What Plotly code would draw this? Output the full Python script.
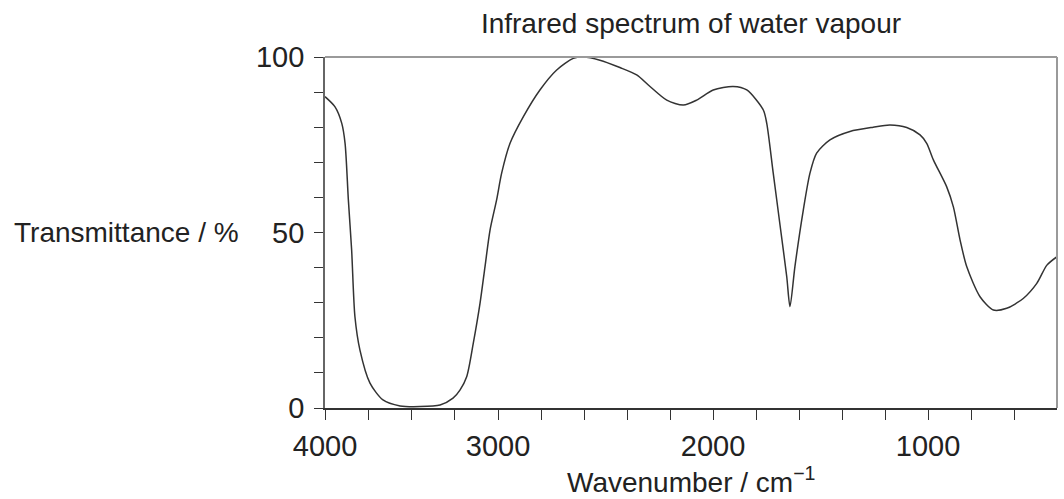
import plotly.graph_objects as go

# ---- data ----
wavenumber = [4000, 3942, 3903, 3884, 3865, 3846, 3827, 3798, 3740, 3665, 3566, 3451, 3335, 3260,
              3220, 3181, 3143, 3104, 3075, 3046, 3008, 2983, 2944, 2882, 2805, 2727, 2650, 2603,
              2526, 2433, 2355, 2293, 2215, 2138, 2076, 1999, 1906, 1843, 1766, 1750, 1720, 1688,
              1657, 1642, 1619, 1580, 1549, 1518, 1456, 1363, 1255, 1177, 1099, 1037, 1006, 975,
              913, 882, 851, 820, 758, 696, 634, 557, 494, 447, 400]
transmittance = [88.7, 85.8, 81.1, 75.4, 59.3, 45.0, 26.0, 16.5, 7.1, 2.3, 0.6, 0.4, 0.85, 2.8,
                 5.1, 8.9, 18.4, 29.8, 40.3, 50.7, 59.3, 66.9, 75.4, 83.0, 90.6, 96.3, 99.6, 100.0,
                 99.1, 97.0, 94.9, 91.6, 87.7, 86.3, 87.7, 90.6, 91.6, 90.6, 84.9, 81.1, 67.0, 52.0,
                 37.4, 28.9, 40.3, 56.4, 66.9, 72.6, 76.4, 78.8, 80.0, 80.6, 79.9, 77.8, 75.4, 70.7,
                 63.0, 57.3, 47.9, 40.3, 31.7, 27.9, 28.4, 31.2, 35.5, 40.7, 43.1]

x_major = [4000, 3000, 2000, 1000]
x_minor = [3750, 3500, 3250, 2800, 2600, 2400, 2200, 1800, 1600, 1400, 1200, 800, 600]
y_ticks = [0, 10, 20, 30, 40, 50, 60, 70, 80, 90, 100]
y_labels = ["0", "", "", "", "", "50", "", "", "", "", "100"]

# the wavenumber scale is compressed above 3000 cm-1
SCALE_HIGH = 173 / 215


def to_axis(w):
    return w if w <= 3000 else 3000 + (w - 3000) * SCALE_HIGH


xu = [to_axis(w) for w in wavenumber]
x_tickvals = [to_axis(w) for w in x_major + x_minor]
x_ticktext = [str(w) for w in x_major] + [" "] * len(x_minor)

FONT = "Liberation Sans, Arial, sans-serif"
TXT = "#222222"

fig = go.Figure()
fig.add_trace(go.Scatter(x=xu, y=transmittance, mode="lines",
                         line=dict(color="#333333", width=1.5, shape="spline", smoothing=0.75),
                         hoverinfo="skip"))

fig.update_layout(
    width=1064, height=499,
    margin=dict(l=325, r=7, t=57, b=91),
    paper_bgcolor="white", plot_bgcolor="white",
    showlegend=False,
    font=dict(family=FONT, color=TXT, size=28),
    title=dict(text="Infrared spectrum of water vapour", x=0.5, xref="paper",
               y=1 - 23 / 499, yref="container", xanchor="center", yanchor="middle",
               font=dict(size=28, family=FONT, color=TXT)),
)

fig.update_xaxes(range=[to_axis(4000), 400], tickmode="array",
                 tickvals=x_tickvals, ticktext=x_ticktext,
                 ticks="outside", ticklen=10, tickwidth=1.3, tickcolor="#333",
                 showline=True, linecolor="#333", linewidth=1.5,
                 showgrid=False, zeroline=False,
                 tickfont=dict(size=29, family=FONT, color=TXT), ticklabelstandoff=1)
fig.update_yaxes(range=[0, 100], tickmode="array", tickvals=y_ticks, ticktext=y_labels,
                 ticks="outside", ticklen=9, tickwidth=1.3, tickcolor="#333",
                 showline=True, linecolor="#666", linewidth=1.8,
                 showgrid=False, zeroline=False,
                 tickfont=dict(size=29, family=FONT, color=TXT), ticklabelstandoff=4)

# top and right frame lines (lighter grey)
fig.add_shape(type="line", xref="paper", yref="paper", x0=0, x1=1, y0=1, y1=1,
              line=dict(color="#9a9a9a", width=2))
fig.add_shape(type="line", xref="paper", yref="paper", x0=1, x1=1, y0=0, y1=1,
              line=dict(color="#9a9a9a", width=2))

fig.add_annotation(text="Transmittance / %", xref="paper", yref="paper",
                   x=(12 - 325) / 732, y=0.5, xanchor="left", yanchor="middle",
                   showarrow=False, font=dict(size=28, family=FONT, color=TXT))
fig.add_annotation(text="Wavenumber / cm<sup>−1</sup>", xref="paper", yref="paper",
                   x=0.5, y=(408 - 480) / 351, xanchor="center", yanchor="middle",
                   showarrow=False, font=dict(size=28, family=FONT, color=TXT))

fig.write_html("out.html", config={"displayModeBar": False},
               post_script="document.body.style.margin='0';document.body.style.overflow='hidden';")
